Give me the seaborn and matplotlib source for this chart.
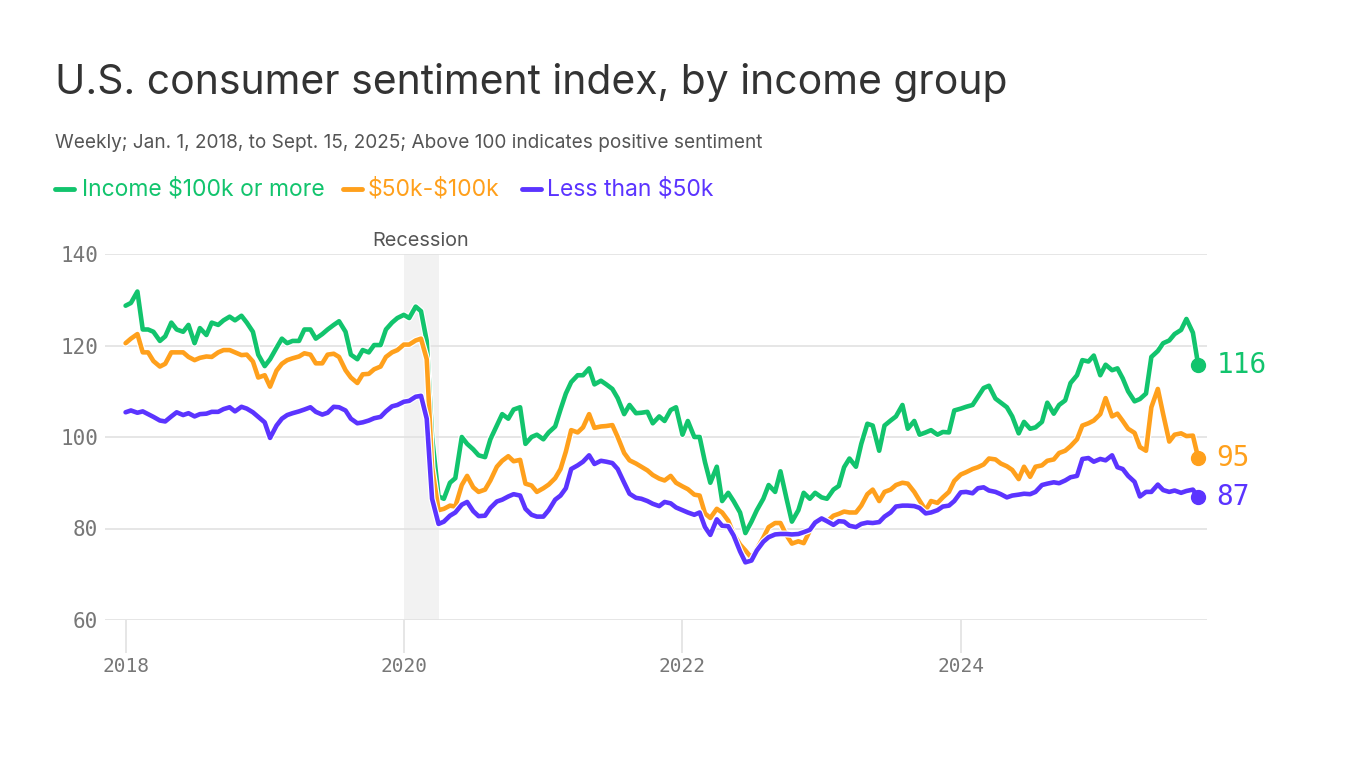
import matplotlib
matplotlib.use("Agg")
import matplotlib.pyplot as plt
import matplotlib.patheffects as pe
import matplotlib.dates as mdates
import pandas as pd
import seaborn as sns

# semi-monthly readings, Jan 1 2018 .. Sep 15 2025
dates = pd.date_range("2018-01-01", "2025-09-30", freq="SMS")[:186]

high_income = [
    128.7, 129.3, 131.8, 123.5, 123.5, 123.0, 121.0, 122.0, 125.0, 123.5,
    123.0, 124.5, 120.5, 123.8, 122.3, 125.0, 124.5, 125.5, 126.3, 125.5,
    126.5, 125.0, 123.0, 118.0, 115.5, 117.0, 119.5, 121.5, 120.5, 121.0,
    121.0, 123.5, 123.5, 121.5, 122.5, 123.5, 124.5, 125.3, 123.0, 118.0,
    117.0, 119.0, 118.5, 120.1, 120.1, 123.5, 125.0, 126.0, 126.7, 126.0,
    128.5, 127.5, 121.0, 100.0, 87.0, 86.5, 90.0, 91.0, 100.0, 98.5,
    97.3, 96.0, 95.6, 99.5, 102.5, 105.0, 104.0, 106.0, 106.5, 98.5,
    100.0, 100.5, 99.5, 101.0, 102.3, 106.0, 109.5, 112.0, 113.5, 113.5,
    115.0, 111.5, 112.3, 111.5, 110.5, 108.5, 105.0, 107.0, 105.2, 105.3,
    105.5, 103.0, 104.5, 103.5, 105.9, 106.5, 100.5, 103.5, 100.0, 100.0,
    94.5, 90.0, 93.5, 86.0, 87.8, 86.0, 83.5, 79.0, 81.5, 84.0,
    86.5, 89.5, 88.0, 92.5, 86.5, 81.5, 84.0, 87.8, 86.5, 87.8,
    86.8, 86.5, 88.5, 89.3, 93.4, 95.3, 93.5, 98.5, 102.9, 102.5,
    97.0, 102.5, 103.6, 104.5, 107.0, 101.8, 103.5, 100.5, 101.0, 101.5,
    100.5, 101.1, 101.0, 105.8, 106.2, 106.6, 107.0, 108.8, 110.7, 111.2,
    108.4, 107.5, 106.5, 104.5, 100.8, 103.3, 101.8, 102.1, 103.3, 107.5,
    105.1, 107.0, 108.0, 111.8, 113.5, 116.8, 116.5, 117.8, 113.5, 115.8,
    114.6, 115.0, 112.8, 110.0, 107.8, 108.3, 109.5, 117.5, 118.8, 120.5,
    121.1, 122.5, 123.4, 125.8, 122.8, 115.7,
]

mid_income = [
    120.5, 121.5, 122.5, 118.5, 118.5, 116.6, 115.4, 116.0, 118.5, 118.5,
    118.5, 117.5, 116.8, 117.3, 117.6, 117.5, 118.5, 119.0, 119.0, 118.5,
    117.9, 118.0, 116.5, 113.0, 113.5, 111.0, 114.5, 116.0, 116.8, 117.2,
    117.6, 118.3, 118.0, 116.1, 116.1, 118.0, 118.2, 117.5, 114.6, 113.0,
    111.8, 113.7, 113.8, 114.8, 115.4, 117.5, 118.5, 119.0, 120.2, 120.2,
    121.1, 121.5, 117.0, 93.4, 84.0, 84.3, 85.0, 84.8, 89.5, 91.5,
    89.0, 88.0, 88.5, 90.5, 93.5, 94.8, 95.8, 94.7, 95.0, 89.8,
    89.4, 88.0, 88.8, 89.6, 91.0, 93.0, 96.8, 101.5, 101.0, 102.1,
    105.0, 102.0, 102.3, 102.4, 102.6, 100.0, 96.5, 94.9, 94.2, 93.5,
    92.7, 91.7, 90.9, 90.5, 91.5, 90.0, 89.2, 88.6, 87.4, 87.2,
    83.3, 82.3, 84.3, 83.5, 81.7, 78.8, 76.5, 75.2, 73.6, 75.5,
    78.0, 80.3, 81.2, 81.2, 78.5, 76.7, 77.2, 76.8, 79.5, 81.5,
    82.0, 81.5, 82.8, 83.2, 83.7, 83.5, 83.5, 85.0, 87.5, 88.5,
    86.0, 88.0, 88.5, 89.5, 90.0, 89.8, 88.0, 86.1, 84.0, 86.0,
    85.6, 86.8, 88.0, 90.4, 91.8, 92.3, 93.0, 93.4, 94.0, 95.3,
    95.1, 94.2, 93.6, 92.8, 90.8, 93.5, 91.3, 93.5, 93.8, 94.8,
    95.1, 96.5, 97.0, 98.0, 99.5, 102.5, 103.0, 103.6, 105.0, 108.5,
    104.5, 105.1, 103.5, 101.8, 100.9, 97.8, 97.0, 106.5, 110.5, 105.0,
    99.0, 100.5, 100.8, 100.2, 100.3, 95.4,
]

low_income = [
    105.4, 105.8, 105.3, 105.6, 105.0, 104.4, 103.6, 103.4, 104.5, 105.4,
    104.8, 105.2, 104.5, 105.0, 105.1, 105.5, 105.5, 106.1, 106.5, 105.6,
    106.6, 106.2, 105.4, 104.4, 103.2, 99.8, 102.5, 104.0, 104.8, 105.2,
    105.6, 106.0, 106.5, 105.5, 104.9, 105.3, 106.6, 106.5, 105.8, 104.0,
    103.0, 103.2, 103.6, 104.1, 104.4, 105.6, 106.7, 107.0, 107.7, 107.9,
    108.8, 109.0, 104.0, 86.5, 81.0, 81.5, 82.8, 83.5, 85.2, 85.8,
    83.8, 82.7, 82.8, 84.5, 85.9, 86.3, 87.0, 87.5, 87.2, 84.3,
    83.0, 82.6, 82.6, 84.0, 86.3, 87.2, 88.8, 93.0, 93.8, 94.6,
    96.0, 94.1, 94.8, 94.6, 94.3, 93.0, 90.0, 87.6, 86.7, 86.5,
    86.0, 85.4, 84.9, 85.8, 85.5, 84.6, 84.0, 83.5, 83.0, 83.5,
    80.3, 78.6, 82.0, 80.6, 80.5, 78.5, 75.0, 72.6, 73.0, 75.2,
    77.1, 78.1, 78.7, 78.8, 78.8, 78.7, 78.8, 79.2, 79.7, 81.3,
    82.2, 81.6, 80.8, 81.6, 81.5, 80.6, 80.3, 81.0, 81.3, 81.2,
    81.4, 82.6, 83.5, 84.8, 85.0, 85.0, 84.9, 84.5, 83.3, 83.5,
    84.0, 84.8, 85.0, 86.0, 87.9, 88.0, 87.7, 88.8, 89.0, 88.3,
    88.0, 87.5, 86.8, 87.2, 87.4, 87.6, 87.5, 88.0, 89.5, 89.8,
    90.1, 89.9, 90.5, 91.2, 91.5, 95.2, 95.4, 94.6, 95.2, 94.9,
    96.0, 93.4, 93.0, 91.5, 90.2, 87.0, 88.0, 88.0, 89.6, 88.4,
    88.0, 88.3, 87.8, 88.2, 88.5, 86.8,
]

series_names = ["Income $100k or more", "$50k-$100k", "Less than $50k"]
colors = ["#12c46d", "#ffa01c", "#5b34ff"]
recession = ("2020-01-01", "2020-04-01")
year_ticks = ["2018-01-01", "2020-01-01", "2022-01-01", "2024-01-01"]

df = pd.DataFrame({
    "date": list(dates) * 3,
    "value": high_income + mid_income + low_income,
    "group": [series_names[0]] * len(dates) + [series_names[1]] * len(dates) + [series_names[2]] * len(dates),
})

sns.set_theme(style="white")
plt.rcParams["font.family"] = ["Inter", "DejaVu Sans"]
plt.rcParams["text.parse_math"] = False

mono = "DejaVu Sans Mono"

fig = plt.figure(figsize=(13.66, 7.68), dpi=100)
ax = fig.add_axes([105 / 1366, 148 / 768, 1102 / 1366, 366 / 768])

ax.axvspan(pd.Timestamp(recession[0]), pd.Timestamp(recession[1]), color="#f2f2f2", zorder=0, lw=0)
ax.text(pd.Timestamp("2020-02-15"), 142.8, "Recession", ha="center", va="center",
        fontsize=14.3, color="#555555")

for y in [60, 80, 100, 120, 140]:
    ax.axhline(y, color="#e2e2e2", lw=1.2, zorder=0.5)

sns.lineplot(data=df, x="date", y="value", hue="group", palette=colors,
             linewidth=3.3, legend=False, ax=ax, zorder=3)
for line in ax.get_lines()[-3:]:
    line.set_path_effects([pe.Stroke(linewidth=5, foreground="white"), pe.Normal()])
    line.set_solid_joinstyle("round")

last_vals = [high_income[-1], mid_income[-1], low_income[-1]]
for val, c in zip(last_vals, colors):
    ax.plot(dates[-1], val, "o", color=c, ms=10, zorder=4, clip_on=False)
    ax.annotate(f"{round(val)}", (dates[-1], val), xytext=(13, 0), textcoords="offset points",
                va="center", ha="left", fontsize=20, color=c, fontfamily=mono,
                annotation_clip=False)

ax.set_xlim(pd.Timestamp("2017-11-08"), pd.Timestamp("2025-10-08"))
ax.set_ylim(60, 140)
ax.set_yticks([60, 80, 100, 120, 140])
ax.set_xticks([pd.Timestamp(d) for d in year_ticks])
ax.xaxis.set_major_formatter(mdates.DateFormatter("%Y"))
ax.tick_params(axis="x", bottom=True, length=24, width=1.2, color="#e2e2e2", pad=3,
               labelsize=14, labelcolor="#777777")
ax.tick_params(axis="y", left=False, length=0, pad=5, labelsize=15, labelcolor="#777777")
for lab in ax.get_xticklabels() + ax.get_yticklabels():
    lab.set_fontfamily(mono)
ax.set_xlabel("")
ax.set_ylabel("")
sns.despine(ax=ax, left=True, bottom=True)

fig.text(55 / 1366, 1 - 82 / 768, "U.S. consumer sentiment index, by income group",
         fontsize=29.4, color="#333333", va="center", ha="left")
fig.text(55 / 1366, 1 - 143 / 768,
         "Weekly; Jan. 1, 2018, to Sept. 15, 2025; Above 100 indicates positive sentiment",
         fontsize=13.7, color="#555555", va="center", ha="left")

legend_x = [(55, 82), (343, 368), (522, 547)]
for (dash_x, text_x), name, c in zip(legend_x, series_names, colors):
    fig.add_artist(plt.Line2D([dash_x / 1366, (dash_x + 19) / 1366], [1 - 189 / 768] * 2,
                              color=c, lw=3.5, transform=fig.transFigure))
    fig.text(text_x / 1366, 1 - 189 / 768, name, fontsize=16.5, color=c, va="center", ha="left")

fig.savefig("out.png", dpi=100)
